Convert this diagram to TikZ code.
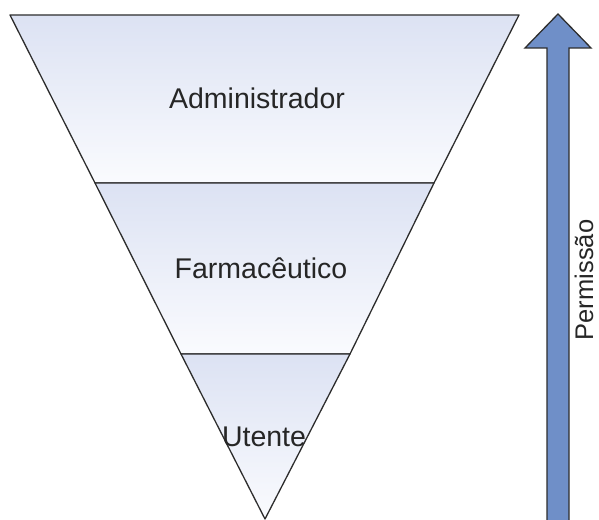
\documentclass[tikz,border=0pt]{standalone}
\usepackage{fontspec}
\setmainfont{Liberation Sans}
\definecolor{edge}{RGB}{45,45,45}
\definecolor{topfill}{RGB}{220,226,243}
\definecolor{botfill}{RGB}{250,251,254}
\definecolor{arrowfill}{RGB}{111,143,200}
\begin{document}
\begin{tikzpicture}[x=1pt,y=-1pt,
  section/.style={top color=topfill,bottom color=botfill,draw=edge,line width=1.3pt,line join=round},
  label/.style={font=\fontsize{28.5}{30}\selectfont,text=black!85,inner sep=0pt},
  bigarrow/.style={fill=arrowfill,draw=edge,line width=1.3pt,line join=miter}]
\useasboundingbox (0,0) rectangle (599,519);
% sections
\coordinate (tl) at (10,15);
\coordinate (tr) at (519,15);
\coordinate (ml1) at (95,183);
\coordinate (mr1) at (434,183);
\coordinate (ml2) at (181,354);
\coordinate (mr2) at (350,354);
\coordinate (apex) at (265,519);
\path[section] (tl) -- (tr) -- (mr1) -- (ml1) -- cycle;
\path[section] (ml1) -- (mr1) -- (mr2) -- (ml2) -- cycle;
\path[section] (ml2) -- (mr2) -- (apex) -- cycle;
\node[label] (adm) at (257,98) {Administrador};
\node[label] (farm) at (261,268) {Farmacêutico};
\node[label] (ut) at (264,437) {Utente};
% arrow
\path[bigarrow] (547,530) -- (547,48) -- (525,48) -- (558,14) -- (591,48) -- (569,48) -- (569,530) -- cycle;
\node[label,font=\fontsize{25.5}{27}\selectfont,rotate=90,anchor=base] (perm) at (593,280) {Permissão};
\end{tikzpicture}
\end{document}
